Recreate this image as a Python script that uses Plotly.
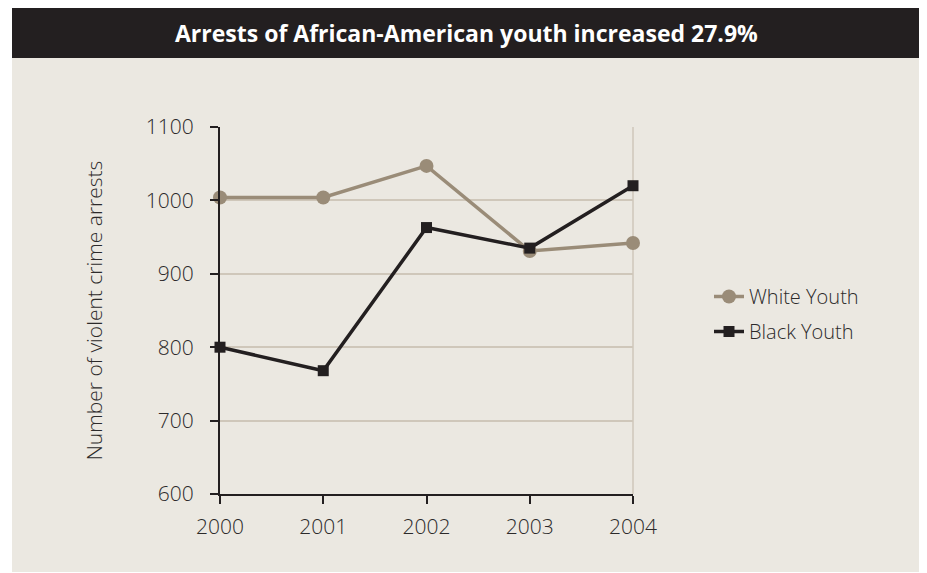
import plotly.graph_objects as go

years = [2000, 2001, 2002, 2003, 2004]
white_youth = [1004, 1004, 1047, 931, 942]
black_youth = [800, 768, 963, 935, 1020]
y_ticks = [600, 700, 800, 900, 1000, 1100]
title_text = "Arrests of African-American youth increased 27.9%"
y_title = "Number of violent crime arrests"

BEIGE = "#ebe8e1"
DARK = "#231f20"
TAN = "#9a8c78"
GRID = "#cfc7ba"
TXT = "#2c2a2a"
FONT = "Open Sans"

OFF = 8  # page body margin offset
# plot area in page pixels: x 220..633, y 127..494
L, R, T, B = 220 - OFF, 633 - OFF, 127 - OFF, 494 - OFF
W, H = 927 - OFF, 573 - OFF
pw, ph = R - L, B - T

def px_x(x):
    return (x - OFF - L) / pw

def px_y(y):
    return (B - (y - OFF)) / ph

fig = go.Figure()
fig.add_trace(go.Scatter(
    x=years, y=white_youth, name="White Youth", mode="lines+markers",
    line=dict(color=TAN, width=3.5), marker=dict(symbol="circle", size=14, color=TAN),
    cliponaxis=False, legendgroup="w"))
fig.add_trace(go.Scatter(
    x=years, y=black_youth, name="Black Youth", mode="lines+markers",
    line=dict(color=DARK, width=3.5), marker=dict(symbol="square", size=11, color=DARK),
    cliponaxis=False, legendgroup="b"))

shapes = [
    dict(type="rect", xref="paper", yref="paper", x0=px_x(12), x1=px_x(940),
         y0=px_y(572), y1=px_y(58), fillcolor=BEIGE, line=dict(width=0), layer="below"),
    dict(type="rect", xref="paper", yref="paper", x0=px_x(12), x1=px_x(940),
         y0=px_y(58), y1=px_y(OFF), fillcolor=DARK, line=dict(width=0), layer="below"),
    dict(type="line", xref="paper", yref="paper", x0=1, x1=1, y0=0, y1=1,
         line=dict(color=GRID, width=1.5), layer="below"),
]

fig.update_layout(
    width=W, height=H,
    margin=dict(l=L, r=W - R, t=T, b=H - B),
    paper_bgcolor="white", plot_bgcolor="rgba(0,0,0,0)",
    font=dict(family=FONT, color=TXT, size=20, weight=300),
    shapes=shapes,
    annotations=[dict(text="<b>" + title_text + "</b>", xref="paper", yref="paper",
                      x=px_x(466), y=px_y(15), showarrow=False,
                      font=dict(family=FONT, color="white", size=23, weight=700))],
    showlegend=True,
    legend=dict(x=px_x(709), y=px_y(314), xanchor="left", yanchor="middle",
                bgcolor="rgba(0,0,0,0)", font=dict(size=20, color=TXT, weight=300),
                traceorder="grouped", tracegroupgap=6),
    xaxis=dict(range=[2000, 2004], tickvals=years, ticktext=[str(y) for y in years],
               showline=True, linecolor=DARK, linewidth=2, ticks="outside",
               ticklen=8, tickwidth=2, tickcolor=DARK, showgrid=False, zeroline=False,
               ticklabelstandoff=5,
               tickfont=dict(size=21, color=TXT, weight=300)),
    yaxis=dict(range=[600, 1100], tickvals=y_ticks, showline=True, linecolor=DARK,
               linewidth=2, ticks="outside", ticklen=8, tickwidth=2, tickcolor=DARK,
               showgrid=True, gridcolor=GRID, gridwidth=1.5, zeroline=False,
               ticklabelstandoff=12,
               tickfont=dict(size=21, color=TXT, weight=300),
               title=dict(text=y_title, font=dict(size=21, color=TXT, weight=300),
                          standoff=37)),
)

fig.write_html("out.html")
